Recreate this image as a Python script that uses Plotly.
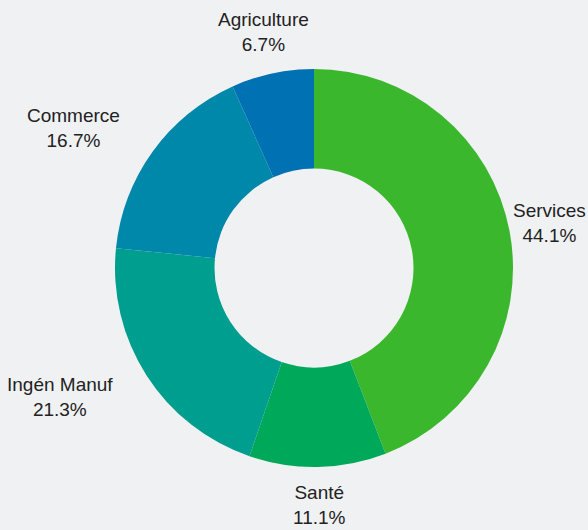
import plotly.graph_objects as go

sectors = ["Services", "Santé", "Ingén Manuf", "Commerce", "Agriculture"]
shares = [44.1, 11.1, 21.3, 16.7, 6.7]
colors = ["#3bb72e", "#00a85a", "#009e8e", "#0088aa", "#0072b3"]

W, H = 588, 530
# label block centres in pixels (layout only)
label_xy = [(549, 223), (319, 505), (60, 397), (73, 128), (263, 32)]

fig = go.Figure(go.Pie(
    labels=sectors,
    values=shares,
    sort=False,
    direction="clockwise",
    rotation=0,
    hole=0.5,
    domain=dict(x=[115 / W, 513 / W], y=[(H - 467) / H, (H - 69) / H]),
    marker=dict(colors=colors, line=dict(width=0)),
    textinfo="none",
    showlegend=False,
))

for name, val, (px, py) in zip(sectors, shares, label_xy):
    fig.add_annotation(
        x=px / W, y=1 - py / H, xref="paper", yref="paper",
        xanchor="center", yanchor="middle", showarrow=False,
        text=f"{name}<br>{val:.1f}%",
        font=dict(family="Liberation Sans, Arial, sans-serif", size=19, color="#222222"),
    )

fig.update_layout(
    width=W,
    height=H,
    margin=dict(l=0, r=0, t=0, b=0),
    paper_bgcolor="#f0f1f3",
    plot_bgcolor="#f0f1f3",
)

fig.write_html(
    "out.html",
    config={"displayModeBar": False},
    post_script="document.body.style.margin='0';document.body.style.background='#f0f1f3';",
)
